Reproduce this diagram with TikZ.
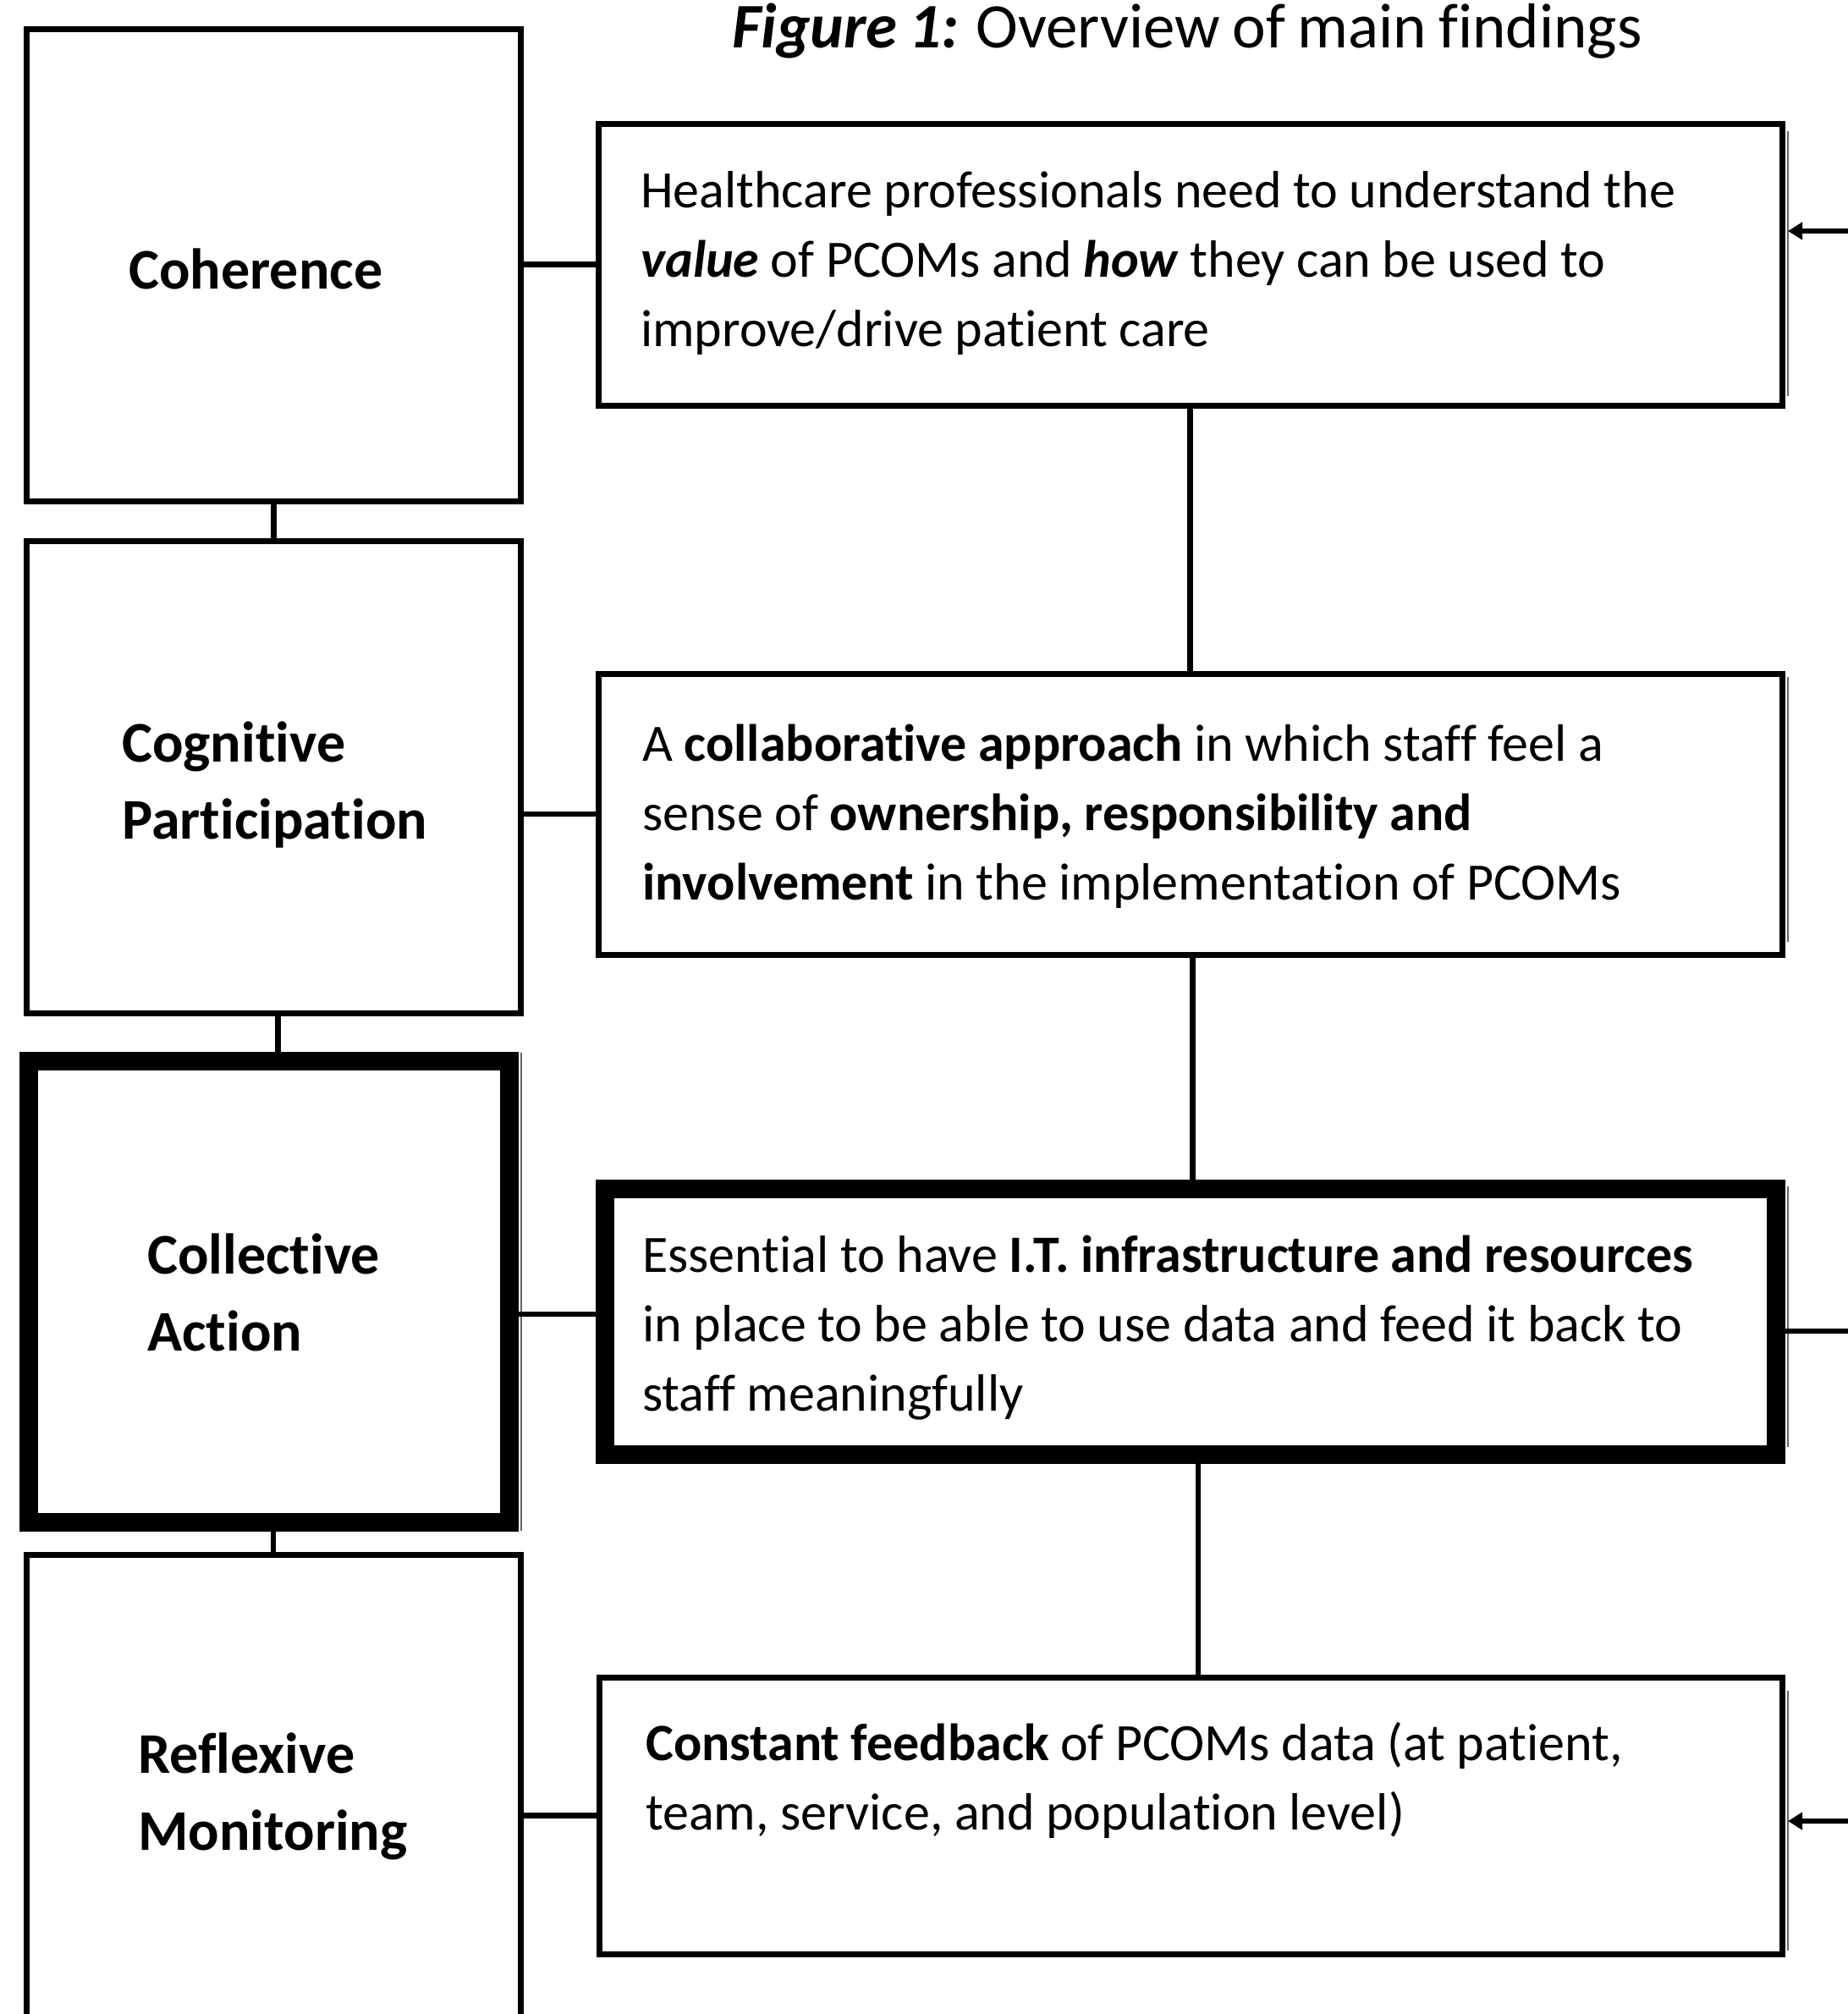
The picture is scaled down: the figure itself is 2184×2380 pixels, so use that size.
\documentclass[tikz,border=0pt]{standalone}
\usepackage{fontspec}
\setmainfont{Carlito}[Ligatures=NoCommon, WordSpace=0.85]
\usetikzlibrary{arrows.meta}
\newcommand{\normsp}{\spaceskip=0.218em\relax\xspaceskip=0.218em\relax}
\tikzset{
  thinrect/.style={draw=black, line width=7pt, inner sep=0pt, outer sep=0pt},
  thickrect/.style={draw=black, line width=22pt, inner sep=0pt, outer sep=0pt},
  conn/.style={draw=black, line width=6.5pt},
  ghost/.style={draw=black!60, line width=2.5pt},
  arr/.style={conn, -{Triangle[length=17pt,width=20pt]}},
  bodytext/.style={font=\fontsize{62}{82}\selectfont, anchor=base west, inner sep=0pt, text width=1340pt},
  stagelabel/.style={font=\bfseries\fontsize{68}{91}\selectfont, anchor=base west, inner sep=0pt, text width=440pt},
  titletext/.style={font=\fontsize{75}{90}\selectfont, anchor=base west, inner sep=0pt}
}
\begin{document}
\begin{tikzpicture}[x=1pt,y=-1pt]
\useasboundingbox (0,0) rectangle (2184,2380);
\fill[white] (0,0) rectangle (2184,2380);
\clip (0,0) rectangle (2184,2380);

\node[titletext] (title) at (865,56) {\textbf{\textit{Figure 1:}} Overview of main findings};

% left column
\node[thinrect, minimum width=583.5pt, minimum height=557.5pt] (coh) at (323.25,313.25) {};
\node[thinrect, minimum width=583.5pt, minimum height=558pt] (cog) at (323.25,918) {};
\node[thickrect, minimum width=568pt, minimum height=545pt] (col) at (318,1526.5) {};
\node[thinrect, minimum width=584pt, minimum height=640pt] (refl) at (323,2157) {};

\node[stagelabel] (tcoh) at (152,341) {Coherence};
\node[stagelabel] (tcog) at (144,900) {Cognitive\\Participation};
\node[stagelabel] (tcol) at (174,1505) {Collective\\Action};
\node[stagelabel] (trefl) at (163,2095) {Reflexive\\Monitoring};

% right column
\node[thinrect, minimum width=1399pt, minimum height=333pt] (b1) at (1406.5,312.5) {};
\node[thinrect, minimum width=1399pt, minimum height=332pt] (b2) at (1406.5,962) {};
\node[thickrect, minimum width=1384pt, minimum height=314pt] (b3) at (1407,1562) {};
\node[thinrect, minimum width=1398pt, minimum height=327pt] (b4) at (1407,2145.5) {};

\node[bodytext] (t1) at (757,245) {\normsp Healthcare professionals need to understand the\\\textbf{\textit{value}} of PCOMs and \textbf{\textit{how}} they can be used to\\improve/drive patient care};
\node[bodytext] (t2) at (759,899) {\normsp A \textbf{collaborative approach} in which staff feel a\\sense of \textbf{ownership, responsibility and}\\\textbf{involvement} in the implementation of PCOMs};
\node[bodytext] (t3) at (759,1503) {\normsp Essential to have \textbf{I.T. infrastructure and resources}\\in place to be able to use data and feed it back to\\staff meaningfully};
\node[bodytext] (t4) at (763,2080) {\normsp\textbf{Constant feedback} of PCOMs data (at patient,\\team, service, and population level)};

% faint double edges
\draw[ghost] ([xshift=7pt,yshift=-9pt]b1.north east) -- ([xshift=7pt,yshift=11pt]b1.south east);
\draw[ghost] ([xshift=7pt,yshift=-4pt]b2.north east) -- ([xshift=7pt,yshift=15pt]b2.south east);
\draw[ghost] ([xshift=14pt,yshift=3pt]b3.north east) -- ([xshift=14pt,yshift=9pt]b3.south east);
\draw[ghost] ([xshift=7pt,yshift=-16pt]b4.north east) -- ([xshift=7pt,yshift=4pt]b4.south east);
\draw[ghost] ([xshift=14pt,yshift=10pt]col.north east) -- ([xshift=14pt,yshift=-10pt]col.south east);

% vertical connectors
\draw[conn] (coh.south) -- (cog.north);
\draw[conn] ([xshift=5pt]cog.south) -- ([xshift=5pt]cog.south |- col.north);
\draw[conn] ([xshift=5pt]col.south) -- ([xshift=5pt]col.south |- refl.north);
\draw[conn] (b1.south) -- (b2.north);
\draw[conn] ([xshift=3pt]b2.south) -- ([xshift=3pt]b2.south |- b3.north);
\draw[conn] ([xshift=9pt]b3.south) -- ([xshift=9pt]b3.south |- b4.north);

% horizontal connectors
\coordinate (c3) at (0,1553);
\draw[conn] (coh.east |- b1.west) -- (b1.west);
\draw[conn] (cog.east |- b2.west) -- (b2.west);
\draw[conn] (col.east |- c3) -- (b3.west |- c3);
\draw[conn] (refl.east |- b4.west) -- (b4.west);

% arrows from the right edge
\coordinate (r1) at (2200,273);
\coordinate (r3) at (2200,1573);
\coordinate (r4) at (2200,2152);
\draw[arr] (r1) -- ([xshift=7pt]b1.east |- r1);
\draw[conn] (r3) -- ([xshift=11pt]b3.east |- r3);
\draw[arr] (r4) -- ([xshift=7pt]b4.east |- r4);
\end{tikzpicture}
\end{document}
